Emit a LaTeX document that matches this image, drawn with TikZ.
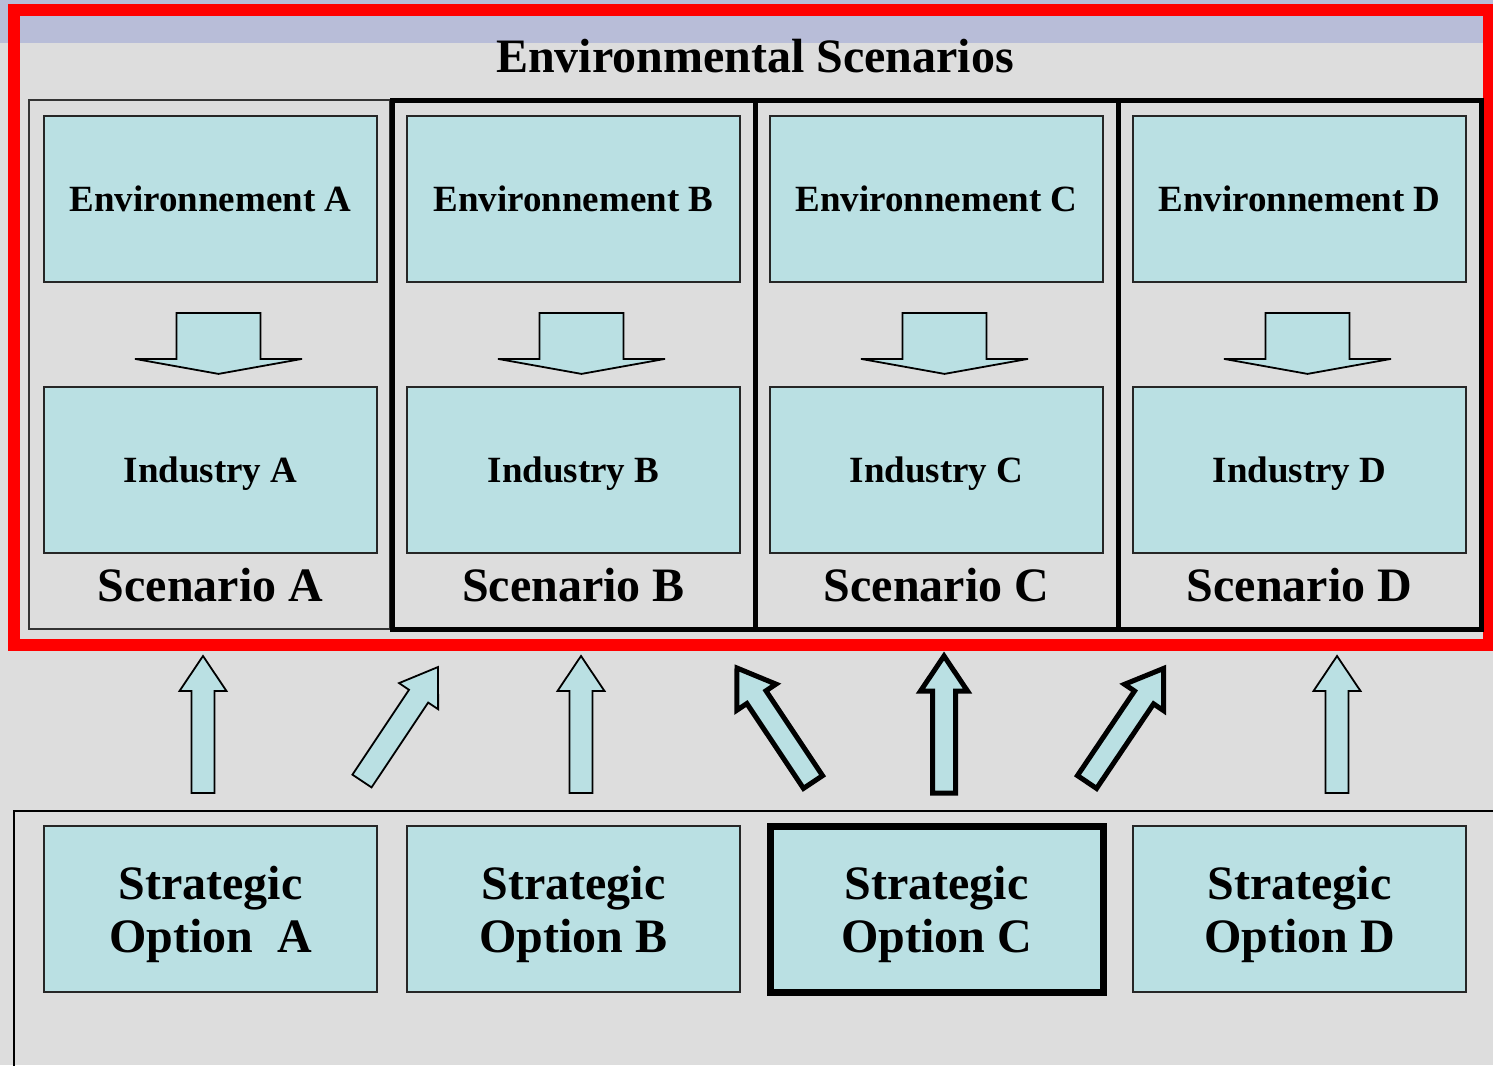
\documentclass[tikz,border=0pt]{standalone}
\usepackage{fontspec}
\setmainfont{Liberation Serif}
\usetikzlibrary{positioning}
\definecolor{boxcyan}{RGB}{186,224,227}
\definecolor{bggray}{RGB}{221,221,221}
\definecolor{bandblue}{RGB}{184,189,216}
\tikzset{
  box/.style={draw=black!85, fill=boxcyan, line width=1.8pt, minimum width=333pt,
    minimum height=166pt, inner sep=0pt, font=\fontsize{37}{40}\selectfont\bfseries,
    text height=25pt, text depth=0pt},
  optbox/.style={box, font=\fontsize{48}{53}\selectfont\bfseries, align=center,
    text height=86pt, text depth=0pt},
  bigtext/.style={font=\fontsize{48}{53}\selectfont\bfseries, anchor=base, inner sep=0pt},
  blockarrow/.style={draw=black, fill=boxcyan, line width=1.8pt, line join=miter},
  boldarrow/.style={blockarrow, line width=5pt}
}

\begin{document}
\begin{tikzpicture}[x=1pt,y=-1pt]
\clip (0,0) rectangle (1493,1065);
\fill[bggray] (0,0) rectangle (1493,1065);
\fill[bandblue] (0,0) rectangle (1493,43);
\draw[red, line width=12pt] (14,10) rectangle (1489,644.5);
\node[bigtext] (title) at (755,72) {Environmental Scenarios};
% scenario frames
\draw[line width=1.5pt, draw=black!80] (29,100) rectangle (390,629);
\foreach \xa/\xb in {392.5/755, 755/1118.5, 1118.5/1481.5}
\draw[line width=5pt] (\xa,100.5) rectangle (\xb,629);
\foreach \l [count=\i from 0] in {A,B,C,D} {
\node[box] (env\l) at (210.5+363*\i,199) {Environnement \l};
\node[box] (ind\l) at (210.5+363*\i,470) {Industry \l};
\node[bigtext] (scen\l) at (210.5+363*\i,601) {Scenario \l};
\draw[blockarrow, shift={([xshift=8pt,yshift=-30pt]env\l.south)}]
  (-42,0) -- (42,0) -- (42,46) -- (83.5,46) -- (0,61) -- (-83.5,46) -- (-42,46) -- cycle;
}
% strategic options
\draw[line width=1.8pt] (14,811) rectangle (1510,1080);
\node[optbox] (optA) at (210.5,909) {Strategic\\Option~~A};
\node[optbox] (optB) at (573.5,909) {Strategic\\Option B};
\node[optbox, line width=7pt, draw=black] (optC) at (936.5,909) {Strategic\\Option C};
\node[optbox] (optD) at (1299.5,909) {Strategic\\Option D};
% up arrows
\foreach \x/\y/\a/\s in {203/793/0/blockarrow, 362/781/-33.7/blockarrow,
  581/793/0/blockarrow, 813/782/33.7/boldarrow, 944/793/0/boldarrow,
  1087/782/-34/boldarrow, 1337/793/0/blockarrow}
\draw[\s, shift={(\x,\y)}, rotate=\a]
  (-11.5,0) -- (11.5,0) -- (11.5,-102) -- (23.5,-102) -- (0,-137) -- (-23.5,-102) -- (-11.5,-102) -- cycle;
\end{tikzpicture}
\end{document}
